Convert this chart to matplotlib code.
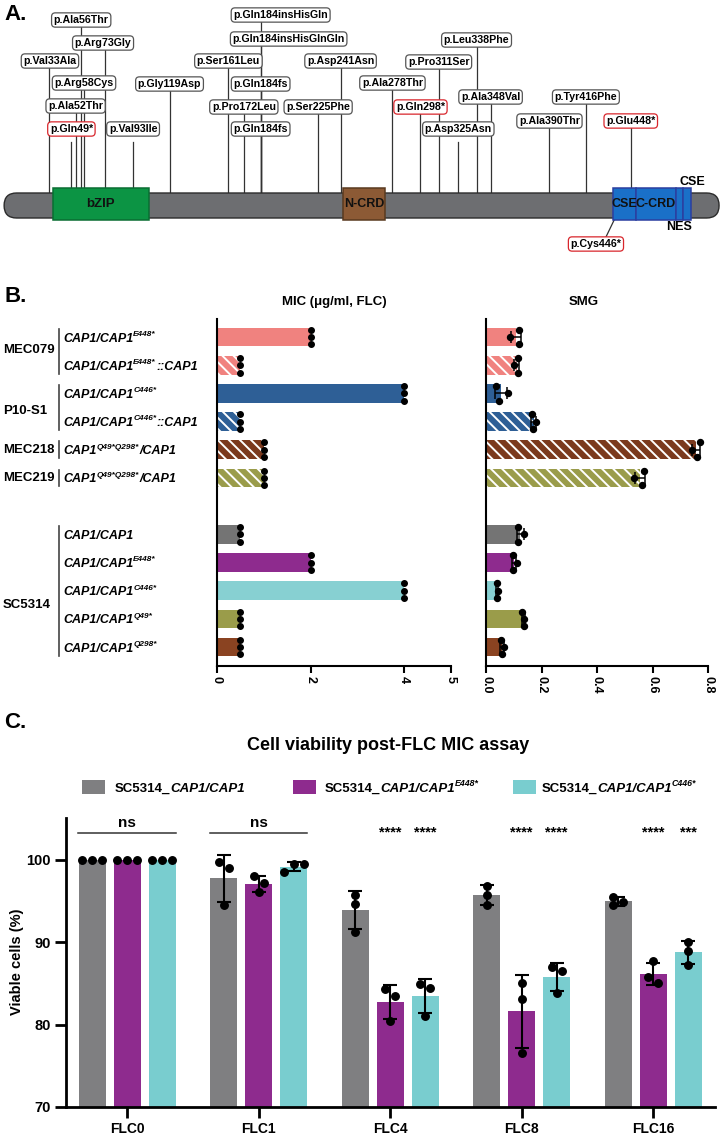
import numpy as np
import matplotlib
matplotlib.use('Agg')
import matplotlib.pyplot as plt
from matplotlib import transforms as mtransforms
from matplotlib.patches import Rectangle, FancyBboxPatch

plt.rcParams['font.family'] = ['Liberation Sans', 'DejaVu Sans']
plt.rcParams['font.weight'] = 'bold'
plt.rcParams['hatch.linewidth'] = 1.4

# ---------------- data ----------------
# A: Cap1 protein, mutations found
mut_names = ['p.Val33Ala', 'p.Gln49*', 'p.Ala52Thr', 'p.Ala56Thr', 'p.Arg58Cys', 'p.Arg73Gly',
             'p.Val93Ile', 'p.Gly119Asp', 'p.Ser161Leu', 'p.Pro172Leu', 'p.Gln184insHisGln',
             'p.Gln184insHisGlnGln', 'p.Gln184fs', 'p.Gln184fs', 'p.Ser225Phe', 'p.Asp241Asn',
             'p.Ala278Thr', 'p.Gln298*', 'p.Pro311Ser', 'p.Asp325Asn', 'p.Leu338Phe',
             'p.Ala348Val', 'p.Ala390Thr', 'p.Tyr416Phe', 'p.Glu448*', 'p.Cys446*']
mut_pos = [33, 49, 52, 56, 58, 73, 93, 119, 161, 172, 184, 184, 184, 184, 225, 241,
           278, 298, 311, 325, 338, 348, 390, 416, 448, 446]
dom_names = ['bZIP', 'N-CRD', 'CSE', 'C-CRD', 'NES', 'CSE']
dom_start = [36, 243, 435, 452, 480, 485]
dom_end = [104, 273, 452, 480, 485, 491]
protein_end = 511

# B: MIC and SMG
geno = [
    [('CAP1/CAP1', 'i'), ('E448*', 'i^')],
    [('CAP1/CAP1', 'i'), ('E448*', 'i^'), ('::CAP1', 'i')],
    [('CAP1/CAP1', 'i'), ('C446*', 'i^')],
    [('CAP1/CAP1', 'i'), ('C446*', 'i^'), ('::CAP1', 'i')],
    [('CAP1', 'i'), ('Q49*Q298*', 'i^'), ('/CAP1', 'i')],
    [('CAP1', 'i'), ('Q49*Q298*', 'i^'), ('/CAP1', 'i')],
    [('CAP1/CAP1', 'i')],
    [('CAP1/CAP1', 'i'), ('E448*', 'i^')],
    [('CAP1/CAP1', 'i'), ('C446*', 'i^')],
    [('CAP1/CAP1', 'i'), ('Q49*', 'i^')],
    [('CAP1/CAP1', 'i'), ('Q298*', 'i^')],
]
strains = ['MEC079', 'P10-S1', 'MEC218', 'MEC219', 'SC5314']
strain_rows = [[0, 1], [2, 3], [4], [5], [6, 7, 8, 9, 10]]
mic = [2, 0.5, 4, 0.5, 1, 1, 0.5, 2, 4, 0.5, 0.5]
smg = [[0.119, 0.086, 0.119], [0.116, 0.101, 0.116], [0.036, 0.080, 0.047],
       [0.166, 0.180, 0.168], [0.771, 0.741, 0.759], [0.569, 0.533, 0.563],
       [0.117, 0.138, 0.117], [0.096, 0.110, 0.096], [0.038, 0.044, 0.038],
       [0.129, 0.138, 0.138], [0.053, 0.065, 0.056]]
row_colors = ['#f0827f', '#f0827f', '#2e5f96', '#2e5f96', '#7b391d', '#9a9c4a',
              '#747474', '#8e2b8e', '#87d0d2', '#9a9c4a', '#8a4321']
row_hatched = [False, True, False, True, True, True, False, False, False, False, False]

# C: viability
flc = ['FLC0', 'FLC1', 'FLC4', 'FLC8', 'FLC16']
viab_wt = [[100, 100, 100], [99.8, 99.0, 94.5], [95.7, 94.7, 91.3], [96.9, 95.8, 94.5], [95.5, 94.9, 94.5]]
viab_e448 = [[100, 100, 100], [98.0, 97.2, 96.1], [84.3, 83.5, 80.4], [85.1, 83.1, 76.6], [87.7, 85.1, 85.8]]
viab_c446 = [[100, 100, 100], [99.5, 99.5, 98.6], [84.9, 84.5, 81.1], [87.0, 86.5, 83.8], [90.0, 89.0, 87.3]]
signif = [['ns'], ['ns'], ['****', '****'], ['****', '****'], ['****', '***']]
c_colors = ['#7f7f81', '#8e2b8e', '#79cdcf']
c_legend = [[('SC5314_', ''), ('CAP1/CAP1', 'i')],
            [('SC5314_', ''), ('CAP1/CAP1', 'i'), ('E448*', 'i^')],
            [('SC5314_', ''), ('CAP1/CAP1', 'i'), ('C446*', 'i^')]]

# ---------------- figure ----------------
W, H = 723, 1138
fig = plt.figure(figsize=(W / 100, H / 100), dpi=100)


def box(l, t, r, b):
    return [l / W, 1 - b / H, (r - l) / W, (b - t) / H]


def rich(x, y, parts, size, trans, ha='left'):
    # bold text with italic bits and superscripts, glued together
    rend = fig.canvas.get_renderer()
    items = []
    cur = 0.0
    for s, sty in parts:
        sup = '^' in sty
        fs = size * 0.66 if sup else size
        t = fig.text(x, y, s, fontsize=fs, fontweight='bold',
                     fontstyle='italic' if 'i' in sty else 'normal', ha='left', va='baseline')
        w = t.get_window_extent(rend).width * 72 / fig.dpi
        items.append((t, cur, size * 0.45 if sup else 0.0))
        cur += w + (0.4 if sup else 0.0)
    shift = {'left': 0.0, 'center': -cur / 2, 'right': -cur}[ha]
    for t, dx, dy in items:
        t.set_transform(mtransforms.offset_copy(trans, fig=fig, x=dx + shift,
                                                y=dy - size * 0.36, units='points'))


for lab, py in [('A.', 14), ('B.', 296), ('C.', 722)]:
    fig.text(4 / W, 1 - py / H, lab, fontsize=16, fontweight='bold', va='center')

# ---------------- A ----------------
axA = fig.add_axes([0, 1 - 285 / H, 1, 285 / H])
axA.set_xlim(-1.93, 513.8)
axA.set_ylim(285, 0)
axA.axis('off')
ppr = W / (513.8 + 1.93)  # pixels per residue

# label layout: box centre height and sideways shift in px
lab_y = [61, 129, 106, 20, 83, 43, 129, 84, 61, 107, 15, 39, 84, 129, 107, 61,
         83, 107, 62, 129, 40, 97, 121, 97, 121, 244]
lab_dx = [1, 0, 0, 0, 0, -2, 0, 0, 0, 0, 20, 28, 0, 0, 0, 0,
          0, 0, 0, 0, 0, 0, 0, 0, 0, -32]
gap_lab = {1, 6, 19}

for i, (nm, p) in enumerate(zip(mut_names, mut_pos)):
    ec = '#d8262c' if nm.endswith('*') else '#555555'
    lx = p + lab_dx[i] / ppr
    if lab_y[i] < 190:
        top = lab_y[i] + 13 if i in gap_lab else lab_y[i]
        axA.plot([p, p], [top, 193], color='#333333', lw=0.9, zorder=1)
    else:
        axA.plot([dom_start[2] + 1.5, lx + 10 / ppr], [219, lab_y[i] - 7],
                 color='#333333', lw=0.9, zorder=1)
    axA.text(lx, lab_y[i], nm, fontsize=7.7, ha='center', va='center', zorder=5,
             bbox=dict(boxstyle='round,pad=0.2,rounding_size=0.35', fc='white', ec=ec, lw=0.9))

axA.add_patch(FancyBboxPatch((1, 193), protein_end - 1, 25,
                             boxstyle='round,pad=0,rounding_size=%.2f' % (12.5 / ppr),
                             mutation_aspect=ppr, fc='#6d6e71', ec='#2b2b2b', lw=1.0, zorder=2))
dom_fc = ['#0c9444', '#8c5a35', '#1a70c8', '#1a70c8', '#1a70c8', '#1a70c8']
dom_ec = ['#0a6e33', '#5a3a20', '#2b3fa0', '#2b3fa0', '#2b3fa0', '#2b3fa0']
for nm, s, e, fc, ec in zip(dom_names, dom_start, dom_end, dom_fc, dom_ec):
    axA.add_patch(Rectangle((s, 188), e - s, 32, fc=fc, ec=ec, lw=1.1, zorder=3))
    if e - s > 10:
        axA.text((s + e) / 2, 204, nm, fontsize=9 if nm != 'bZIP' else 9.5,
                 ha='center', va='center', color='#111111', zorder=4)
    elif nm == 'NES':
        axA.text((s + e) / 2, 227, nm, fontsize=9, ha='center', va='center')
    else:
        axA.text((s + e) / 2 + 6 / ppr, 182, nm, fontsize=9, ha='center', va='center')

# ---------------- B ----------------
slots = np.arange(len(mic)) + (np.arange(len(mic)) >= 6)
ylimB = (11.67, -0.64)
rep_off = [-0.26, 0.0, 0.26]

axM = fig.add_axes(box(217, 319, 451, 666))
axS = fig.add_axes(box(486, 319, 708, 666))
for ax in (axM, axS):
    for sp in ('top', 'right'):
        ax.spines[sp].set_visible(False)
    for sp in ('left', 'bottom'):
        ax.spines[sp].set_linewidth(1.5)
    ax.set_ylim(*ylimB)
    ax.set_yticks([])
    ax.tick_params(axis='x', length=5, width=1.5, labelsize=9, pad=2)

barsM = axM.barh(slots, mic, height=0.66, color=row_colors, zorder=2)
barsS = axS.barh(slots, [np.mean(v) for v in smg], height=0.66, color=row_colors, zorder=2)
for bars in (barsM, barsS):
    for b, h in zip(bars, row_hatched):
        b.set_linewidth(0)
        if h:
            b.set_edgecolor('white')
            b.set_hatch('\\\\\\')
for s, v in zip(slots, mic):
    axM.plot([v] * 3, s + np.array(rep_off), 'o', color='black', ms=4, zorder=4, clip_on=False)
for s, v in zip(slots, smg):
    axS.errorbar(np.mean(v), s, xerr=np.std(v, ddof=1), color='black', lw=1.1,
                 capsize=4.5, capthick=1.1, zorder=3)
    axS.plot(v, s + np.array(rep_off), 'o', color='black', ms=4.3, zorder=4, clip_on=False)

axM.set_xlim(0, 5)
axM.set_xticks([0, 2, 4, 5])
axM.set_xticklabels(['0', '2', '4', '5'], rotation=-90, fontweight='bold')
axS.set_xlim(0, 0.8)
axS.set_xticks([0, 0.2, 0.4, 0.6, 0.8])
axS.set_xticklabels(['0.0', '0.2', '0.4', '0.6', '0.8'], rotation=-90, fontweight='bold')

fig.text(334 / W, 1 - 302 / H, 'MIC (\u03bcg/ml, FLC)', fontsize=9.5, ha='center', va='center')
fig.text(584 / W, 1 - 302 / H, 'SMG', fontsize=9.5, ha='center', va='center')

trB = mtransforms.blended_transform_factory(fig.transFigure, axM.transData)
for s, parts in zip(slots, geno):
    rich(63 / W, s, parts, 9, trB)
name_shift = [-0.05, 0.12, 0, 0, 0.5]
for nm, rows, dy in zip(strains, strain_rows, name_shift):
    ys = slots[rows]
    fig.text(3 / W, ys.mean() + dy, nm, transform=trB, fontsize=9.5, va='center')
    fig.add_artist(plt.Line2D([59 / W, 59 / W], [ys.min() - 0.3, ys.max() + 0.3],
                              transform=trB, color='#444444', lw=1.2))

# ---------------- C ----------------
axC = fig.add_axes(box(66, 818, 715, 1107))
for sp in ('top', 'right'):
    axC.spines[sp].set_visible(False)
for sp in ('left', 'bottom'):
    axC.spines[sp].set_linewidth(2)
axC.set_xlim(-0.464, 4.47)
axC.set_ylim(70, 105.1)
axC.set_yticks([70, 80, 90, 100])
axC.set_xticks(range(len(flc)))
axC.set_xticklabels(flc)
axC.tick_params(length=8, width=2, labelsize=10.5, pad=3)
axC.tick_params(axis='x', labelsize=10)

x = np.arange(len(flc))
offs = [-0.266, 0.0, 0.266]
bw = 0.205
fig.canvas.draw()
px_per_unit = axC.transData.transform((0, 1))[1] - axC.transData.transform((0, 0))[1]
px_per_grp = axC.transData.transform((1, 0))[0] - axC.transData.transform((0, 0))[0]
step = 10 / px_per_grp
dot_d = 7.5

for k, reps in enumerate([viab_wt, viab_e448, viab_c446]):
    means = [np.mean(r) for r in reps]
    axC.bar(x + offs[k], means, width=bw, color=c_colors[k], zorder=2)
    for g, r in enumerate(reps):
        sd = np.std(r, ddof=1)
        if sd > 0:
            axC.errorbar(x[g] + offs[k], means[g], yerr=sd, color='black', lw=1.5,
                         capsize=5, capthick=1.5, zorder=3)
        # spread replicate dots sideways where they would overlap
        order = np.argsort(r)[::-1]
        xs = {}
        for j in order:
            for cand in (0, step, -step, 2 * step):
                ok = all(abs(cand - xs[q]) > step * 0.5 or
                         abs(r[j] - r[q]) * px_per_unit > dot_d for q in xs)
                if ok:
                    xs[j] = cand
                    break
        comp = {}
        for j in order:
            comp[j] = j
            for q in xs:
                if q != j and abs(r[j] - r[q]) * px_per_unit < dot_d:
                    comp[j] = min(comp[j], comp.get(q, q))
        for root in set(comp.values()):
            mem = [j for j in comp if comp[j] == root]
            c = (max(xs[j] for j in mem) + min(xs[j] for j in mem)) / 2
            for j in mem:
                xs[j] -= c
        axC.plot([x[g] + offs[k] + xs[j] for j in range(3)], r, 'o', color='black',
                 ms=5.4, zorder=4)

for g, sig in enumerate(signif):
    if sig == ['ns']:
        axC.plot([x[g] - 0.37, x[g] + 0.37], [103.3, 103.3], color='#333333', lw=1.1)
        axC.text(x[g], 104.5, 'ns', fontsize=11, ha='center', va='center')
    else:
        for k, s in enumerate(sig):
            axC.text(x[g] + offs[k + 1], 103.3, s, fontsize=10.5, ha='center', va='center')

fig.text(17 / W, 1 - 962 / H, 'Viable cells (%)', fontsize=10.5, rotation=90,
         ha='center', va='center')
fig.text(388 / W, 1 - 745 / H, 'Cell viability post-FLC MIC assay', fontsize=13,
         ha='center', va='center')

for sq_x, tx_x, col, parts in zip([82, 293, 513], [115, 325, 542], c_colors, c_legend):
    fig.add_artist(Rectangle((sq_x / W, 1 - 794 / H), 23 / W, 14 / H, transform=fig.transFigure,
                             fc=col, ec='none'))
    rich(tx_x / W, 1 - 787 / H, parts, 9.5, fig.transFigure)

fig.savefig('out.png', dpi=100)
